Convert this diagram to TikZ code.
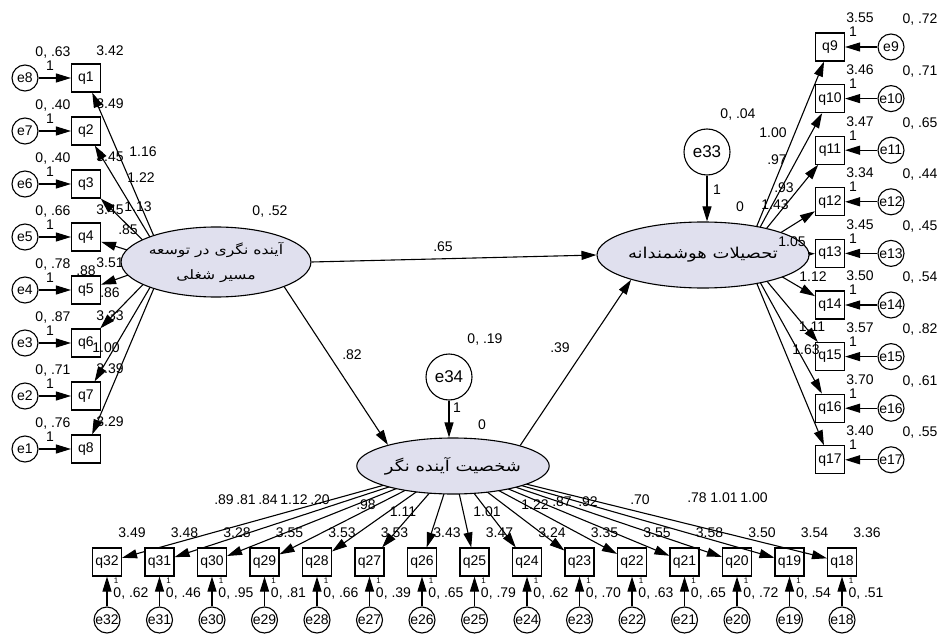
\documentclass[tikz,border=0pt]{standalone}
\usepackage{fontspec}
\setmainfont{Liberation Sans}
\newfontfamily\farsi[Script=Arabic,FakeStretch=1.2]{DejaVu Sans}
\TeXXeTstate=1
\usetikzlibrary{arrows.meta,shapes.geometric}

\definecolor{latfill}{RGB}{224,224,238}
\newcommand{\lbl}{\fontsize{14}{16}\selectfont}
\newcommand{\lblsmall}{\fontsize{8}{9}\selectfont}

\begin{document}
\begin{tikzpicture}[x=1pt, y=-1pt,
		main/.style={line width=1.1pt, color=black},
		arr/.style={main, -{Triangle[length=15pt,width=9pt]}},
		obs/.style={main, draw, fill=white, minimum width=29pt, minimum height=28pt, inner sep=0pt, font=\lbl},
		err/.style={main, draw, fill=white, circle, minimum size=26pt, inner sep=0pt, font=\lbl},
		lat/.style={main, draw, ellipse, fill=latfill, inner sep=0pt, align=center},
		lab/.style={font=\lbl, inner sep=0pt}
	]
	\useasboundingbox (0,0) rectangle (941,636);

	% left block: future orientation in career development
	\coordinate (hubL) at (165,262);
	\foreach \k/\e/\v/\m in {1/8/.63/3.42, 2/7/.40/3.49, 3/6/.40/3.45, 4/5/.66/3.45, 5/4/.78/3.51, 6/3/.87/3.33, 7/2/.71/3.39, 8/1/.76/3.29} {
		\node[obs] (q\k) at (86,{78+53*(\k-1)}) {q\k};
		\node[err] (e\e) at (25,{78+53*(\k-1)}) {e\e};
		\draw[arr] (hubL) -- (q\k);
		\draw[arr] (e\e) -- (q\k);
		\path (q\k) ++(-33,-25) node[lab] {0, \v};
		\path (q\k) ++(-36,-12) node[lab] {1};
		\path (q\k) ++(24,-27) node[lab] {\m};
	}
	\node[lat, minimum width=182pt, minimum height=70pt, font=\farsi\fontsize{13}{25}\selectfont] (fut) at (216,262) {\beginR آینده نگری در توسعه\endR\\\beginR مسیر شغلی\endR};
	\foreach \px/\py/\t in {143/152/1.16, 141/178/1.22, 138/207/1.13, 128/230/.85, 86/271/.88, 110/293/.86, 106/348/1.00}
		\path (\px,\py) node[lab] {\t};

	% right block
	\coordinate (hubR) at (745,255);
	\foreach \k/\v/\m in {9/.72/3.55, 10/.71/3.46, 11/.65/3.47, 12/.44/3.34, 13/.45/3.45, 14/.54/3.50, 15/.82/3.57, 16/.61/3.70, 17/.55/3.40} {
		\node[obs] (q\k) at (830,{47+51.6*(\k-9)}) {q\k};
		\node[err] (e\k) at (891,{47+51.6*(\k-9)}) {e\k};
		\draw[arr] (hubR) -- (q\k);
		\draw[arr] (e\k) -- (q\k);
		\path (q\k) ++(30,-29) node[lab] {\m};
		\path (q\k) ++(90,-27) node[lab] {0, \v};
		\path (q\k) ++(23,-15) node[lab] {1};
	}
	\node[lat, minimum width=156pt, minimum height=66pt, font=\farsi\fontsize{15}{18}\selectfont] (edu) at (703,255) {\beginR تحصیلات هوشمندانه\endR};
	\foreach \px/\py/\t in {773/133/1.00, 777/160/.97, 784/188/.93, 775/205/1.43, 792/242/1.05, 813/277/1.12, 812/327/1.11, 806/350/1.63}
		\path (\px,\py) node[lab] {\t};

	% bottom block
	\coordinate (hubB) at (453,466);
	\foreach \k/\v/\m in {32/.62/3.49, 31/.46/3.48, 30/.95/3.28, 29/.81/3.55, 28/.66/3.53, 27/.39/3.53, 26/.65/3.43, 25/.79/3.47, 24/.62/3.24, 23/.70/3.35, 22/.63/3.55, 21/.65/3.58, 20/.72/3.50, 19/.54/3.54, 18/.51/3.36} {
		\node[obs] (q\k) at ({107+52.5*(32-\k)},562) {q\k};
		\node[err] (e\k) at ({107+52.5*(32-\k)},620) {e\k};
		\draw[arr] (hubB) -- (q\k);
		\draw[arr] (e\k) -- (q\k);
		\path (q\k) ++(25,-29) node[lab] {\m};
		\path (q\k) ++(24,32) node[lab] {0, \v};
		\path (q\k) ++(9,19) node[lab, font=\lblsmall] {1};
	}
	\node[lat, minimum width=146pt, minimum height=56pt, font=\farsi\fontsize{15}{18}\selectfont] (pers) at (453,466) {\beginR شخصیت آینده نگر\endR};
	\foreach \px/\py/\t in {224/500/.89, 246/500/.81, 268/500/.84, 294/500/1.12, 320/500/.20, 366/505/.98, 403/512/1.11, 487/512/1.01, 535/505/1.22, 562/502/.87, 588/502/.92, 640/500/.70, 697/498/.78, 724/498/1.01, 754/498/1.00}
		\path (\px,\py) node[lab] {\t};

	% residuals of the latent variables
	\node[err, minimum size=46pt, font=\fontsize{17}{19}\selectfont] (e33) at (707,152) {e33};
	\node[err, minimum size=46pt, font=\fontsize{17}{19}\selectfont] (e34) at (449,377) {e34};
	\draw[arr] (e33) -- (e33 |- edu.north);
	\draw[arr] (e34) -- (e34 |- pers.north);

	% structural paths
	\draw[arr] (fut.east) -- (edu.west);
	\draw[arr] (fut.-20) -- (pers.162);
	\draw[arr] (pers.17) -- (edu.199);

	\path (443,247) node[lab] {.65};
	\path (352,355) node[lab] {.82};
	\path (560,348) node[lab] {.39};
	\path (270,212) node[lab] {0, .52};
	\path (738,115) node[lab] {0, .04};
	\path (717,190) node[lab] {1};
	\path (740,207) node[lab] {0};
	\path (485,340) node[lab] {0, .19};
	\path (457,408) node[lab] {1};
	\path (482,425) node[lab] {0};
\end{tikzpicture}
\end{document}
